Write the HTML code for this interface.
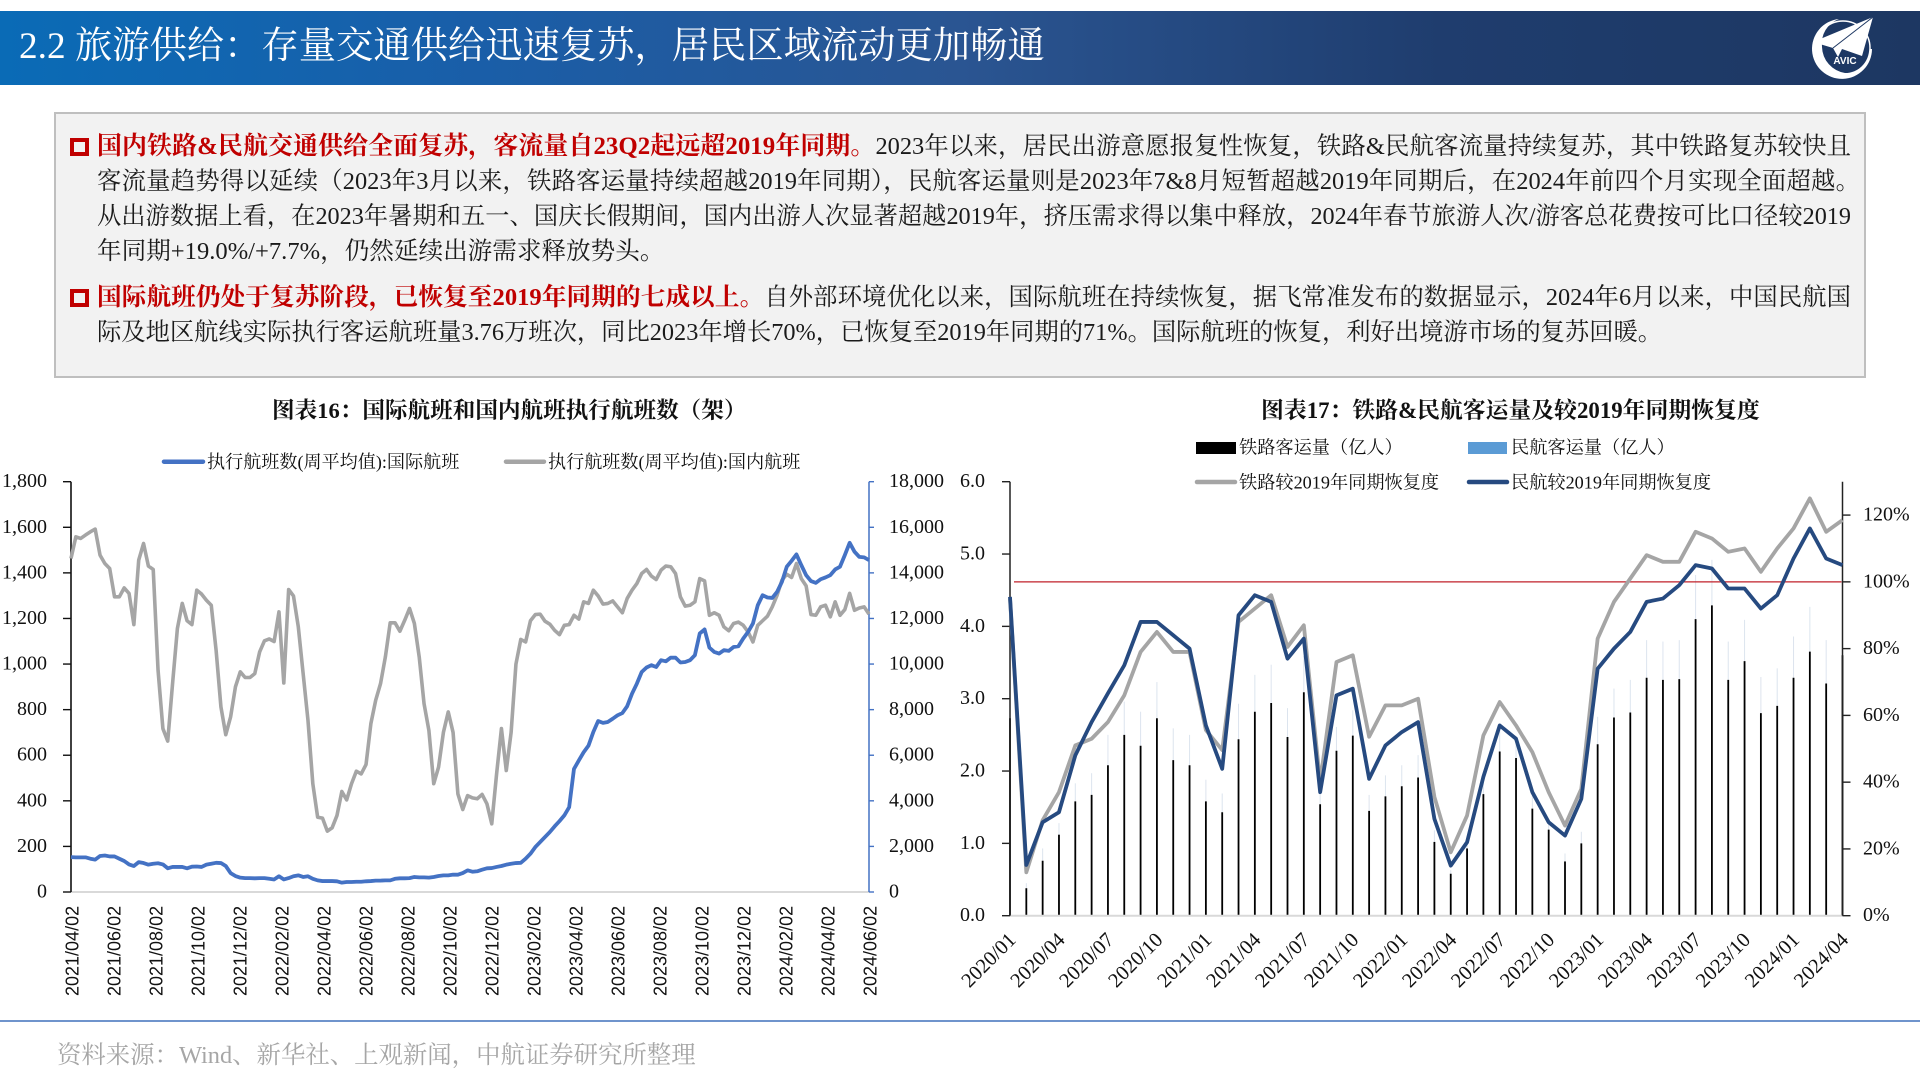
<!DOCTYPE html>
<html lang="zh-CN">
<head>
<meta charset="utf-8">
<title>旅游供给</title>
<style>
html,body{margin:0;padding:0;background:#fff;}
#page{position:relative;width:1920px;height:1080px;overflow:hidden;background:#fff;font-family:"Liberation Serif","Noto Serif CJK SC",serif;}
#header{position:absolute;left:0;top:11px;width:1920px;height:74px;background:linear-gradient(90deg,#0a6bb6 0%,#1a5ea8 25%,#2a5592 50%,#1f3d6e 75%,#1d3762 100%);}
#title{position:absolute;left:19px;top:11px;color:#fff;font-size:37.3px;line-height:50px;white-space:nowrap;}
#box{position:absolute;left:54px;top:112px;width:1808px;height:262px;background:#f2f2f2;border:2px solid #bfbfbf;}
.ln{position:absolute;left:97px;height:35px;line-height:35px;font-size:24.4px;color:#1a1a1a;white-space:nowrap;}
.ln.j{white-space:normal;text-align:justify;text-align-last:justify;overflow:visible;}
.r{color:#c00000;font-weight:bold;}
.bu{position:absolute;left:70px;width:11px;height:10px;border:4px solid #c00000;}
.ct{position:absolute;top:395px;height:32px;line-height:32px;font-size:22.6px;font-weight:bold;color:#111;white-space:nowrap;}
#rule{position:absolute;left:0;top:1020px;width:1920px;height:2px;background:#6f94cc;}
#source{position:absolute;left:57px;top:1038px;line-height:36px;font-size:24.4px;color:#a6a6a6;white-space:nowrap;}
svg text{font-family:"Liberation Serif","Noto Serif CJK SC",serif;fill:#111;}
</style>
</head>
<body>
<div id="page">
  <div id="header">
    <div id="title">2.2 旅游供给&#xFF1A;存量交通供给迅速复苏&#xFF0C;居民区域流动更加畅通</div>
  </div>
  <svg style="position:absolute;left:1800px;top:11px" width="90" height="74" viewBox="0 0 90 74">
    <path d="M39 8 A30 30 0 1 0 72 38 L70 38 A25 25 0 0 1 45 62 A27 27 0 0 1 22 36 A26 26 0 0 1 39 8Z" fill="#fff"/>
    <circle cx="43" cy="37" r="27" fill="none" stroke="#fff" stroke-width="1.5"/>
    <path d="M73 6 L13 31 L33 37 L38 46 L42 38 L62 45Z" fill="#fff"/>
    <path d="M73 6 L33 37" stroke="#1d3762" stroke-width="1" fill="none"/>
    <text x="45" y="53" font-size="10" text-anchor="middle" font-weight="bold" style="fill:#fff;font-family:'Liberation Sans',sans-serif">AVIC</text>
  </svg>

  <div id="box"></div>
  <div class="bu" style="top:138px"></div>
  <div class="bu" style="top:289px"></div>
  <div class="ln j" style="top:129px;width:1754px"><span class="r" style="font-size:24.9px">国内铁路&amp;民航交通供给全面复苏&#xFF0C;客流量自23Q2起远超2019年同期。</span>2023年以来&#xFF0C;居民出游意愿报复性恢复&#xFF0C;铁路&amp;民航客流量持续复苏&#xFF0C;其中铁路复苏较快且</div>
  <div class="ln j" style="top:164px;width:1763px">客流量趋势得以延续&#xFF08;2023年3月以来&#xFF0C;铁路客运量持续超越2019年同期&#xFF09;&#xFF0C;民航客运量则是2023年7&amp;8月短暂超越2019年同期后&#xFF0C;在2024年前四个月实现全面超越。</div>
  <div class="ln j" style="top:199px;width:1754px;font-size:24.2px">从出游数据上看&#xFF0C;在2023年暑期和五一、国庆长假期间&#xFF0C;国内出游人次显著超越2019年&#xFF0C;挤压需求得以集中释放&#xFF0C;2024年春节旅游人次/游客总花费按可比口径较2019</div>
  <div class="ln" style="top:234px;font-size:24.6px">年同期+19.0%/+7.7%&#xFF0C;仍然延续出游需求释放势头。</div>
  <div class="ln j" style="top:280px;width:1754px;font-size:24.3px"><span class="r" style="font-size:24.6px">国际航班仍处于复苏阶段&#xFF0C;已恢复至2019年同期的七成以上。</span>自外部环境优化以来&#xFF0C;国际航班在持续恢复&#xFF0C;据飞常准发布的数据显示&#xFF0C;2024年6月以来&#xFF0C;中国民航国</div>
  <div class="ln" style="top:315px;font-size:24.3px">际及地区航线实际执行客运航班量3.76万班次&#xFF0C;同比2023年增长70%&#xFF0C;已恢复至2019年同期的71%。国际航班的恢复&#xFF0C;利好出境游市场的复苏回暖。</div>

  <div class="ct" style="left:272px">图表16&#xFF1A;国际航班和国内航班执行航班数&#xFF08;架&#xFF09;</div>
  <div class="ct" style="left:1261px;font-size:22.85px">图表17&#xFF1A;铁路&amp;民航客运量及较2019年同期恢复度</div>

  <svg id="c1" style="position:absolute;left:0;top:430px" width="960" height="580" viewBox="0 430 960 580"></svg>
  <svg id="c2" style="position:absolute;left:950px;top:430px" width="970" height="580" viewBox="950 430 970 580"></svg>

  <div id="rule"></div>
  <div id="source">资料来源&#xFF1A;Wind、新华社、上观新闻&#xFF0C;中航证券研究所整理</div>
</div>

<script>
/* Chart 16: weekly flights */
const flightTickLabels = ["2021/04/02","2021/06/02","2021/08/02","2021/10/02","2021/12/02","2022/02/02","2022/04/02","2022/06/02","2022/08/02","2022/10/02","2022/12/02","2023/02/02","2023/04/02","2023/06/02","2023/08/02","2023/10/02","2023/12/02","2024/02/02","2024/04/02","2024/06/02"];
const flightLeftTicks = [0,200,400,600,800,1000,1200,1400,1600,1800];
const flightRightTicks = [0,2000,4000,6000,8000,10000,12000,14000,16000,18000];
const intlFlights = [153,152,152,152,146,142,158,160,156,156,
146,136,121,114,131,127,120,124,126,121,
104,110,110,110,104,111,112,110,120,124,
128,127,114,83,70,63,61,61,60,61,
61,58,55,69,55,61,69,73,66,69,
58,51,48,48,48,47,41,44,44,45,
45,47,48,50,50,51,51,58,60,60,
61,66,64,64,63,66,70,73,73,76,
76,83,95,89,91,98,104,105,110,114,
120,124,127,128,146,168,197,219,241,263,
288,311,336,372,540,577,613,642,702,750,
742,746,760,775,785,815,870,914,965,985,
995,987,1017,1012,1028,1028,1007,1009,1017,1039,
1134,1152,1072,1053,1046,1061,1058,1075,1078,1112,
1141,1178,1258,1302,1292,1290,1317,1361,1427,1453,
1481,1434,1390,1364,1356,1372,1380,1390,1415,1427,
1478,1532,1493,1470,1468,1456];
const domesticFlights = [14630,15580,15510,15660,15800,15920,14780,14410,14190,12950,
12950,13340,13100,11730,14560,15290,14300,14150,9730,7170,
6620,9140,11560,12660,11900,11730,13240,13070,12800,12580,
10610,8120,6900,7680,9000,9660,9410,9410,9580,10530,
11020,11100,10990,12290,9170,13270,12990,11630,9580,7530,
4750,3280,3240,2670,2820,3360,4410,4040,4750,5300,
5180,5590,7380,8410,9140,10310,11810,11810,11440,11920,
12440,11780,10310,8260,7090,4750,5480,7000,7900,7000,
4300,3620,4230,4130,4090,4280,3870,2990,5180,7170,
5330,7000,10000,11080,10970,11900,12170,12190,11880,11750,
11480,11290,11700,11730,12140,11970,12730,12660,13240,12990,
12630,12660,12770,12510,12250,12880,13240,13530,13970,14150,
13860,13710,14120,14300,14270,13970,12950,12540,12580,12730,
13750,13650,12140,12250,12140,11630,11460,11780,11840,11700,
11410,10970,11700,11900,12100,12510,13020,13680,13940,13800,
14410,13750,13430,12170,12140,12510,12580,12070,12730,12140,
12390,13100,12360,12460,12510,12190];

/* Chart 17: monthly passengers */
const monthLabels = ["2020/01","2020/04","2020/07","2020/10","2021/01","2021/04","2021/07","2021/10","2022/01","2022/04","2022/07","2022/10","2023/01","2023/04","2023/07","2023/10","2024/01","2024/04"];
const passengerLeftTicks = ["0.0","1.0","2.0","3.0","4.0","5.0","6.0"];
const recoveryTicks = [0,20,40,60,80,100,120];
const referenceLevel = [100];
const railPassengers = [2.73,0.38,0.76,1.12,1.58,1.67,2.08,2.50,2.35,2.73,2.15,2.08,1.58,1.43,2.44,2.82,2.94,2.47,3.09,1.54,2.28,2.49,1.45,1.65,1.79,1.91,1.02,0.58,0.93,1.68,2.27,2.18,1.48,1.19,0.75,1.00,2.37,2.74,2.81,3.29,3.26,3.27,4.10,4.29,3.26,3.52,2.80,2.90,3.29,3.65,3.21,3.60];
const airPassengers = [0.40,0.07,0.17,0.16,0.25,0.30,0.42,0.46,0.47,0.50,0.44,0.42,0.30,0.26,0.49,0.51,0.53,0.40,0.50,0.14,0.33,0.35,0.22,0.29,0.29,0.31,0.16,0.05,0.08,0.20,0.33,0.30,0.20,0.12,0.11,0.16,0.38,0.40,0.45,0.52,0.53,0.54,0.61,0.63,0.53,0.57,0.50,0.52,0.57,0.62,0.60,0.60];
const railRecovery = [95,13,28.6,37,51,53,58,66,79,85,79,79,55.6,49.6,88,92,96,80.5,87,40,76,78,53.6,63,63,65,35.6,19,30,54,64,57,49,37,27,38,83,94,101,108,106,106,115,113,109,110,103,110,116,125,115,118.5];
const airRecovery = [95.5,15.2,28,31,48,58,66.6,75,88,88,84,80,57,44,90,96,94,77,83,37,66,68,41,51,55,58,29,15,22,41.6,57,53,37,28,24,35,74,80,85,94,95,99,105,104,98,98,92,96,107,116,107,105];

const SVGNS = "http://www.w3.org/2000/svg";
function mk(svg, tag, attrs, txt){
  const e = document.createElementNS(SVGNS, tag);
  for(const k in attrs) e.setAttribute(k, attrs[k]);
  if(txt !== undefined) e.textContent = txt;
  svg.appendChild(e);
  return e;
}
function poly(values, xf, yf){
  return values.map((v,i)=>xf(i).toFixed(2)+","+yf(v).toFixed(2)).join(" ");
}
function fmt(n){return String(n).replace(/\B(?=(\d{3})+$)/g,",");}

/* ---------- chart 16 ---------- */
(function(){
  const svg = document.getElementById("c1");
  const L = 71, R = 869, T = 481.7, B = 892;
  const maxL = flightLeftTicks[flightLeftTicks.length-1];
  const maxR = flightRightTicks[flightRightTicks.length-1];
  const yL = v => B - v/maxL*(B-T);
  const yR = v => B - v/maxR*(B-T);
  const n = intlFlights.length;
  const x = i => L + i/(n-1)*(R-L);
  const tx = i => L + 1 + i/(flightTickLabels.length-1)*(R-L);

  const base = mk(svg,"line",{x1:L,x2:R,y1:B,y2:B,stroke:"#d9d9d9","stroke-width":2});
  
  
  const la = mk(svg,"line",{x1:L,x2:L,y1:T,y2:B,stroke:"#111","stroke-width":1.6});
  
  
  const ra = mk(svg,"line",{x1:R,x2:R,y1:T,y2:B,stroke:"#4472c4","stroke-width":1.5});
  
  

  flightLeftTicks.forEach(v=>{
    const y = yL(v);
    const t = mk(svg,"line",{x1:L-8,x2:L,y1:y,y2:y,stroke:"#111","stroke-width":1.4});
    
    
    const l = mk(svg,"text",{x:47,y:y+5.5,"font-size":20,"text-anchor":"end"},fmt(v));
    
    
  });
  flightRightTicks.forEach(v=>{
    const y = yR(v);
    const t = mk(svg,"line",{x1:R,x2:R+5,y1:y,y2:y,stroke:"#4472c4","stroke-width":1.4});
    
    
    const l = mk(svg,"text",{x:889,y:y+5.5,"font-size":20},fmt(v));
    
    
  });
  flightTickLabels.forEach((s,i)=>{
    const xx = tx(i);
    const l = mk(svg,"text",{x:0,y:0,"font-size":18,transform:"translate("+(xx+6.5)+",996) rotate(-90)",style:"font-family:'Liberation Sans',sans-serif"},s);
    
    
  });

  const g = mk(svg,"polyline",{points:poly(domesticFlights,x,yR),fill:"none",stroke:"#a5a5a5","stroke-width":3.6,"stroke-linejoin":"round"});
  
  
  const b = mk(svg,"polyline",{points:poly(intlFlights,x,yL),fill:"none",stroke:"#4472c4","stroke-width":3.8,"stroke-linejoin":"round"});
  
  

  const lg1 = mk(svg,"line",{x1:164,x2:203,y1:461.7,y2:461.7,stroke:"#4472c4","stroke-width":4.5,"stroke-linecap":"round"});
  
  
  const lt1 = mk(svg,"text",{x:207,y:468,"font-size":18.1},"执行航班数(周平均值):国际航班");
  
  
  const lg2 = mk(svg,"line",{x1:506,x2:544,y1:461.7,y2:461.7,stroke:"#a5a5a5","stroke-width":4.5,"stroke-linecap":"round"});
  
  
  const lt2 = mk(svg,"text",{x:548,y:468,"font-size":18.1},"执行航班数(周平均值):国内航班");
  
  
})();

/* ---------- chart 17 ---------- */
(function(){
  const svg = document.getElementById("c2");
  const L = 1010, R = 1842.5, T = 481.7, B = 915.7;
  const maxV = 6, maxP = 130;
  const yV = v => B - v/maxV*(B-T);
  const yP = v => B - v/maxP*(B-T);
  const n = railPassengers.length;
  const x = i => L + i/(n-1)*(R-L);

  railPassengers.forEach((v,i)=>{
    const xx = x(i);
    const air = mk(svg,"line",{x1:xx,x2:xx,y1:yV(v),y2:yV(v+airPassengers[i]),stroke:"#dce4ee","stroke-width":1});
    
    
    const rail = mk(svg,"line",{x1:xx,x2:xx,y1:B,y2:yV(v),stroke:"#000","stroke-width":1.8});
    
    
  });

  const base = mk(svg,"line",{x1:L,x2:R,y1:B,y2:B,stroke:"#d9d9d9","stroke-width":2});
  
  
  const la = mk(svg,"line",{x1:L,x2:L,y1:T,y2:B,stroke:"#222","stroke-width":1.5});
  
  
  const ra = mk(svg,"line",{x1:R,x2:R,y1:T,y2:B,stroke:"#222","stroke-width":1.5});
  
  

  passengerLeftTicks.forEach(s=>{
    const y = yV(parseFloat(s));
    const t = mk(svg,"line",{x1:L-8,x2:L,y1:y,y2:y,stroke:"#222","stroke-width":1.4});
    
    
    const l = mk(svg,"text",{x:985,y:y+5.5,"font-size":20,"text-anchor":"end"},s);
    
    
  });
  recoveryTicks.forEach(v=>{
    const y = yP(v);
    const t = mk(svg,"line",{x1:R,x2:R+8,y1:y,y2:y,stroke:"#222","stroke-width":1.4});
    
    
    const l = mk(svg,"text",{x:1863,y:y+5.5,"font-size":20},v+"%");
    
    
  });
  monthLabels.forEach((s,i)=>{
    const xx = x(i*3);
    const l = mk(svg,"text",{x:0,y:0,"font-size":20.5,"text-anchor":"end",transform:"translate("+(xx+7)+",941) rotate(-45)"},s);
    
    
  });

  const ref = mk(svg,"line",{x1:L+4,x2:R-1,y1:yP(referenceLevel[0]),y2:yP(referenceLevel[0]),stroke:"#c0202a","stroke-width":1.2});
  
  
  const g = mk(svg,"polyline",{points:poly(railRecovery,x,yP),fill:"none",stroke:"#a5a5a5","stroke-width":3.8,"stroke-linejoin":"round"});
  
  
  const b = mk(svg,"polyline",{points:poly(airRecovery,x,yP),fill:"none",stroke:"#264a80","stroke-width":3.8,"stroke-linejoin":"round"});
  
  

  const s1 = mk(svg,"rect",{x:1196,y:442,width:40,height:12,fill:"#000"});
  
  
  const t1 = mk(svg,"text",{x:1239,y:453.5,"font-size":18.2},"铁路客运量\uFF08亿人\uFF09");
  
  
  const s2 = mk(svg,"rect",{x:1468,y:442,width:39,height:12,fill:"#5b9bd5"});
  
  
  const t2 = mk(svg,"text",{x:1511,y:453.5,"font-size":18.2},"民航客运量\uFF08亿人\uFF09");
  
  
  const s3 = mk(svg,"line",{x1:1197,x2:1235,y1:482,y2:482,stroke:"#a5a5a5","stroke-width":4.5,"stroke-linecap":"round"});
  
  
  const t3 = mk(svg,"text",{x:1239,y:488.5,"font-size":18.2},"铁路较2019年同期恢复度");
  
  
  const s4 = mk(svg,"line",{x1:1469,x2:1507,y1:482,y2:482,stroke:"#264a80","stroke-width":4.5,"stroke-linecap":"round"});
  
  
  const t4 = mk(svg,"text",{x:1511,y:488.5,"font-size":18.2},"民航较2019年同期恢复度");
  
  
})();
</script>
</body>
</html>
